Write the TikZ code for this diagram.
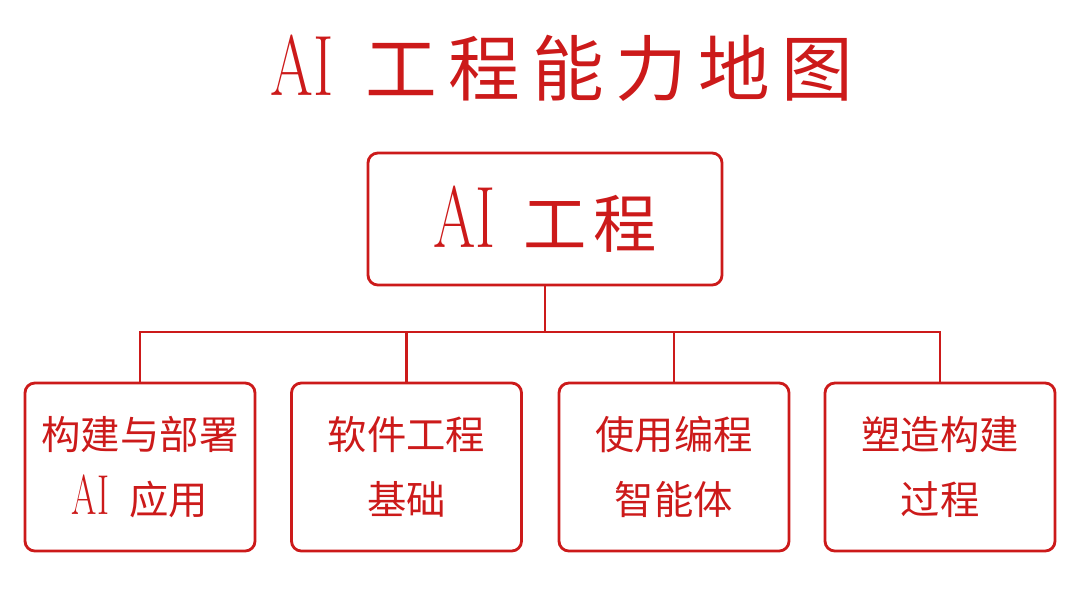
\documentclass[tikz,border=0pt]{standalone}
\usepackage{fontspec}
\usepackage{graphicx}
\newfontfamily\cjk{Noto Sans CJK SC}
\newfontfamily\cjktitle{Noto Sans CJK SC}[LetterSpace=16]
\newfontfamily\cjkroot{Noto Sans CJK SC}[LetterSpace=10]
\usetikzlibrary{positioning}
\definecolor{mapred}{HTML}{CC1A1A}
% narrow "AI" in serif, size / horizontal squeeze / gap after it
\newcommand\bigAI[3]{{\fontsize{#1}{#1}\selectfont\scalebox{#2}[1]{AI}}\hspace{#3}}
\tikzset{
  rootbox/.style={draw=mapred, line width=2pt, rounded corners=7pt, text=mapred,
    minimum width=8.85cm, minimum height=3.3cm, inner sep=0pt},
  leafbox/.style={draw=mapred, line width=2pt, rounded corners=7pt, text=mapred,
    minimum width=5.75cm, minimum height=4.2cm, inner sep=0pt, align=center,
    font=\fontsize{28pt}{46pt}\selectfont},
  link/.style={draw=mapred, line width=2pt},
}
\begin{document}
\begin{tikzpicture}
    \useasboundingbox (0,0) rectangle (27,-14.825);

    \node[text=mapred] (title) at (14.05,-1.7)
        {\bigAI{61pt}{0.72}{0.8cm}{\cjktitle\fontsize{51pt}{51pt}\selectfont 工程能力地图}};

    \node[rootbox] (root) at (13.625,-5.475)
        {\bigAI{62pt}{0.7}{0.7cm}{\cjkroot\fontsize{45pt}{45pt}\selectfont 工程}};

    \node[leafbox] (build) at (3.5,-11.675) {{\cjk 构建与部署}\\\bigAI{40pt}{0.65}{0.5cm}{\cjk 应用}};
    \node[leafbox] (soft) at (10.1625,-11.675) {\cjk 软件工程\\\cjk 基础};
    \node[leafbox] (agent) at (16.85,-11.675) {\cjk 使用编程\\\cjk 智能体};
    \node[leafbox] (proc) at (23.5,-11.675) {\cjk 塑造构建\\\cjk 过程};

    \coordinate (bus) at (13.625,-8.3);

    \path[link] (root.south) -- (bus);
    \path[link] (build.north) |- (bus) -| (proc.north);
    \path[link] (soft.north) -- (soft.north |- bus);
    \path[link] (agent.north) -- (agent.north |- bus);
\end{tikzpicture}
\end{document}
